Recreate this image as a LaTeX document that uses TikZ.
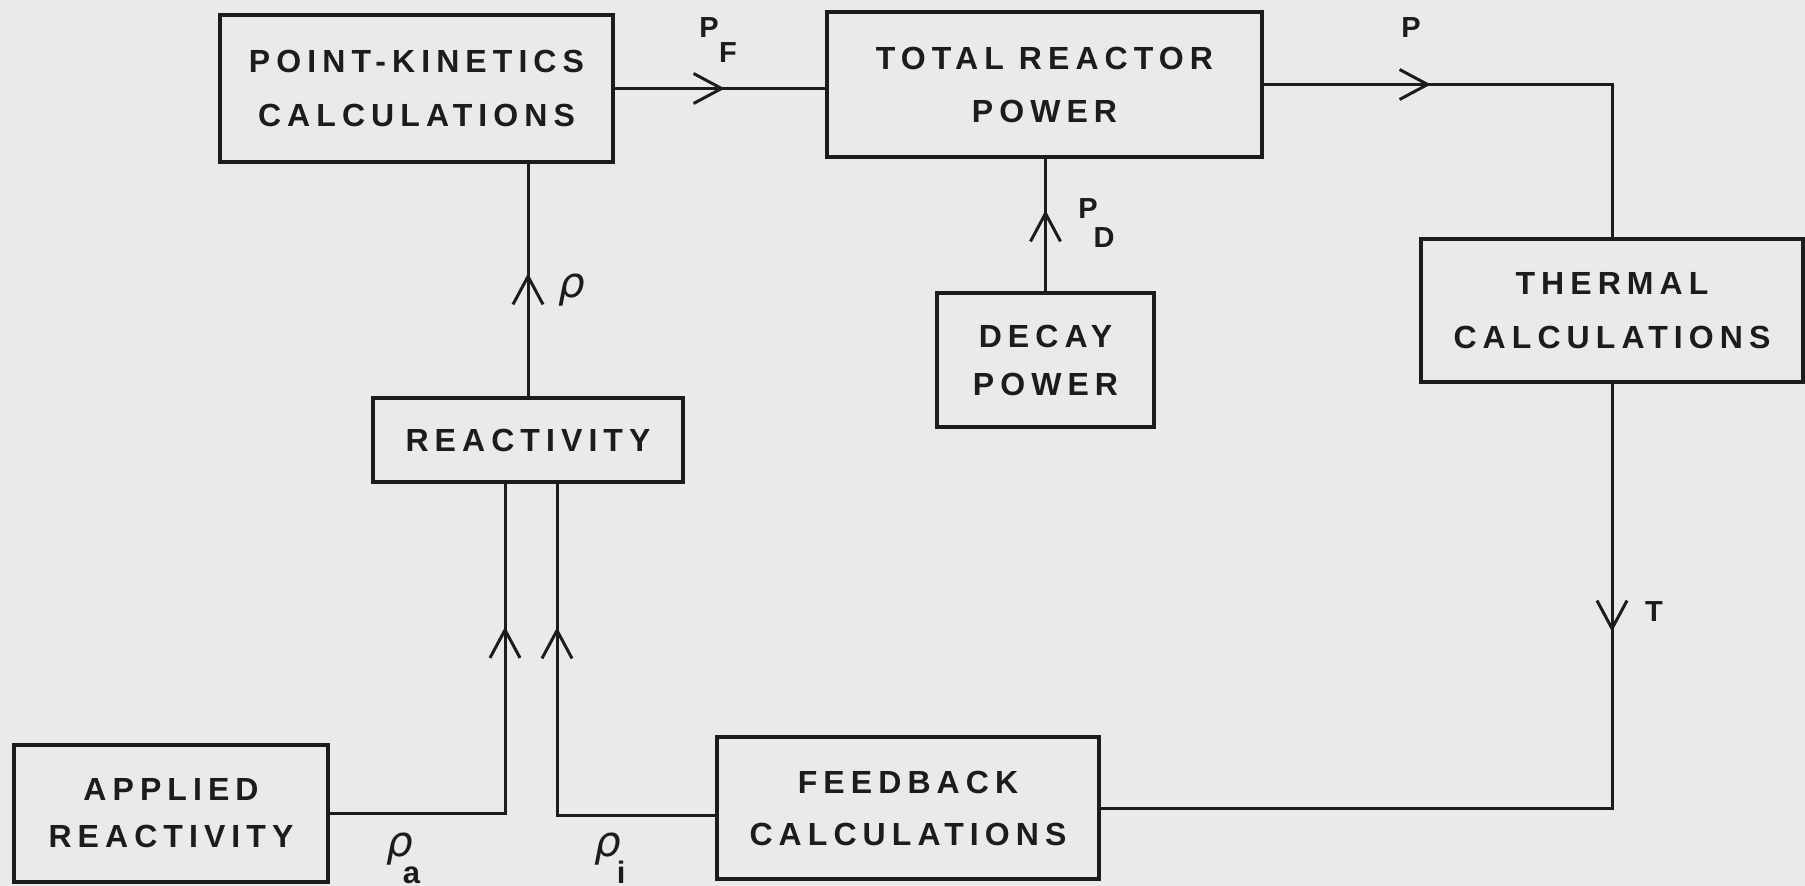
\documentclass[tikz,border=0pt]{standalone}
\usepackage{fontspec}
\usetikzlibrary{arrows.meta,decorations.markings}
\newfontfamily\boxfont[LetterSpace=19]{Liberation Sans Bold}
\newfontfamily\lblfont{Liberation Sans Bold}
\newfontfamily\rhofont{DejaVu Sans Oblique}
\definecolor{paper}{RGB}{234,234,232}
\definecolor{ink}{RGB}{28,28,28}
\newcommand{\subsc}[2]{\kern#1\raisebox{-27pt}{\fontsize{31}{32}\lblfont #2}}
\tikzset{
  box/.style={draw=ink, line width=3.5pt, inner sep=0pt, align=center, text=ink},
  bfont/.style={font=\fontsize{32}{#1}\boxfont},
  wire/.style={draw=ink, line width=3pt},
  tipat/.style={postaction={decorate}, decoration={markings,
      mark=at position #1 with {\arrow{Straight Barb[length=28pt,width=30pt,line width=3pt]}}}},
  lbl/.style={inner sep=0pt, text=ink, font=\fontsize{29}{30}\lblfont},
  rholbl/.style={inner sep=0pt, text=ink, font=\fontsize{42}{44}\rhofont},
}
\begin{document}
\begin{tikzpicture}[x=1pt,y=-1pt]
\useasboundingbox[fill=paper] (0,0) rectangle (1805,886);
% boxes
\node[box, bfont=54, minimum width=393pt, minimum height=147pt] (pk) at (416.5,88.5) {POINT-KINETICS\\CALCULATIONS};
\node[box, bfont=53, minimum width=435pt, minimum height=145pt] (trp) at (1044.5,84.5) {TOTAL REACTOR\\POWER};
\node[box, bfont=48, minimum width=217pt, minimum height=134pt] (decay) at (1045.5,360) {DECAY\\POWER};
\node[box, bfont=54, minimum width=382pt, minimum height=143pt] (th) at (1612,310.5) {THERMAL\\CALCULATIONS};
\node[box, bfont=48, minimum width=310pt, minimum height=84pt] (rea) at (528,440) {REACTIVITY};
\node[box, bfont=47, minimum width=314pt, minimum height=137pt] (app) at (171,813.5) {APPLIED\\REACTIVITY};
\node[box, bfont=52, minimum width=382pt, minimum height=142pt] (fb) at (908,808) {FEEDBACK\\CALCULATIONS};
% connectors
\draw[wire, tipat=110pt] (pk.east) -- (pk.east -| trp.west);
\draw[wire, tipat=167pt] (trp.east) -| (th.north);
\draw[wire, tipat=81pt] (decay.north) -- (decay.north |- trp.south);
\draw[wire, tipat=123pt] (rea.north) -- (rea.north |- pk.south);
\draw[wire, tipat=362pt] (app.east) -| ([xshift=-23pt]rea.south);
\draw[wire, tipat=346pt] ([yshift=-7pt]fb.west) -| ([xshift=29pt]rea.south);
\draw[wire, tipat=248pt] (th.south) |- (fb.east);
% labels
\node[lbl] (pfp) at (709,28) {P};
\node[lbl] (pff) at (728,53) {F};
\node[lbl] (pp) at (1411,28) {P};
\node[lbl] (pdp) at (1088,209) {P};
\node[lbl] (pdd) at (1104,238) {D};
\node[lbl] (tl) at (1654,612) {T};
\node[rholbl] (rl) at (572,290) {ρ};
\node[rholbl, anchor=base west] (ral) at (386,856) {ρ\subsc{-10pt}{a}};
\node[rholbl, anchor=base west] (ril) at (594,856) {ρ\subsc{-4pt}{i}};
\end{tikzpicture}
\end{document}
